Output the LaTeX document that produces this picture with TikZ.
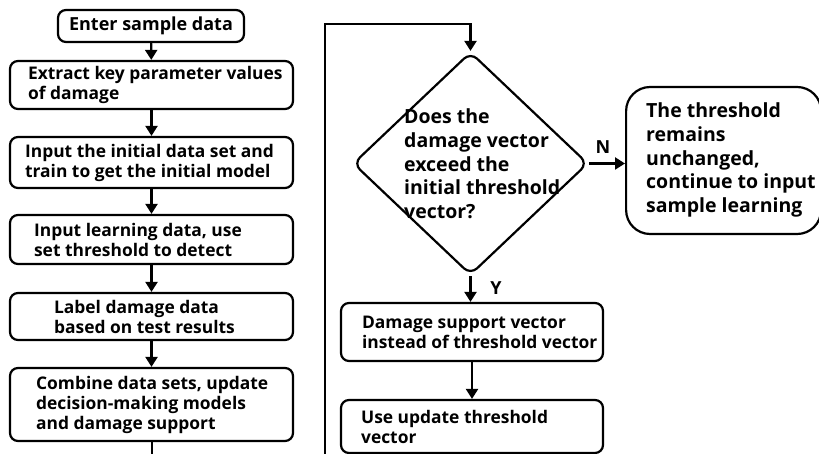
\documentclass[tikz,border=0pt]{standalone}
\usepackage{fontspec}
\setmainfont{Open Sans}
\usetikzlibrary{shapes.geometric,arrows.meta,calc}
\begin{document}
\begin{tikzpicture}[x=1pt,y=-1pt,
  box/.style={draw,line width=2.2pt,rounded corners=8pt,inner sep=0pt},
  rbox/.style={draw,line width=2.2pt,rounded corners=24pt,inner sep=0pt},
  ltxt/.style={anchor=west,align=left,inner sep=0pt,font=\bfseries\fontsize{17.4}{20}\selectfont},
  rtxt/.style={anchor=west,align=left,inner sep=0pt,font=\bfseries\fontsize{19.5}{23.7}\selectfont},
  conn/.style={line width=2.2pt,-{Triangle[width=12pt,length=10pt]}},
  plain/.style={line width=2.2pt},
  lbl/.style={font=\bfseries\fontsize{18}{20}\selectfont,inner sep=0pt}
]
\useasboundingbox (0,0) rectangle (819,454);
% left column boxes
\node[box,minimum width=186pt,minimum height=32pt,font=\bfseries\fontsize{18}{20}\selectfont] (b1) at (151,26) {Enter sample data};
\node[box,minimum width=283pt,minimum height=48pt] (b2) at (151.5,85) {};
\node[box,minimum width=283pt,minimum height=51pt] (b3) at (151.5,162.5) {};
\node[box,minimum width=283pt,minimum height=49pt] (b4) at (151.5,239.5) {};
\node[box,minimum width=283pt,minimum height=47pt] (b5) at (151.5,316.5) {};
\node[box,minimum width=283pt,minimum height=73pt] (b6) at (151.5,404.5) {};
\node[ltxt] (t2) at ([xshift=19pt]b2.west) {Extract key parameter values\\of damage};
\node[ltxt] (t3) at ([xshift=16pt]b3.west) {Input the initial data set and\\train to get the initial model};
\node[ltxt] (t4) at ([xshift=25pt]b4.west) {Input learning data, use\\set threshold to detect};
\node[ltxt] (t5) at ([xshift=45pt]b5.west) {Label damage data\\based on test results};
\node[ltxt] (t6) at ([xshift=27pt]b6.west) {Combine data sets, update\\decision-making models\\and damage support};
% right part
\coordinate (bl) at (152,458);
\coordinate (br) at (325,458);
\coordinate (tl) at (325,24);
\node[draw,diamond,line width=2.2pt,rounded corners=9pt,minimum width=235pt,minimum height=223pt,inner sep=0pt] (d) at (470.5,163.5) {};
\node[rtxt] (dt) at (404,164) {Does the\\damage vector\\exceed the\\initial threshold\\vector?};
\node[rbox,minimum width=195pt,minimum height=147pt,anchor=west] (r) at (625,160.5) {};
\node[rtxt] (rt) at (646,160) {The threshold\\remains\\unchanged,\\continue to input\\sample learning};
\node[box,minimum width=262pt,minimum height=58pt] (b7) at (472,332) {};
\node[ltxt] (t7) at ([xshift=22pt]b7.west) {Damage support vector\\instead of threshold vector};
\node[box,minimum width=262pt,minimum height=53pt] (b8) at (472,426.5) {};
\node[ltxt] (t8) at ([xshift=21pt]b8.west) {Use update threshold\\vector};
\node[lbl] (ln) at (603,147) {N};
\node[lbl] (ly) at (496,288) {Y};
% connectors
\draw[conn] (b1) -- (b2);
\draw[conn] (b2) -- (b3);
\draw[conn] (b3) -- (b4);
\draw[conn] (b4) -- (b5);
\draw[conn] (b5) -- (b6);
\draw[plain] (b6.south -| bl) -- (bl);
\draw[conn] (br) -- (tl) -- (tl -| d.north) -- (d.north);
\draw[conn] (d.east) -- (d.east -| r.west);
\draw[conn] (d.south) -- (d.south |- b7.north);
\draw[conn] (b7) -- (b8);
\end{tikzpicture}
\end{document}
